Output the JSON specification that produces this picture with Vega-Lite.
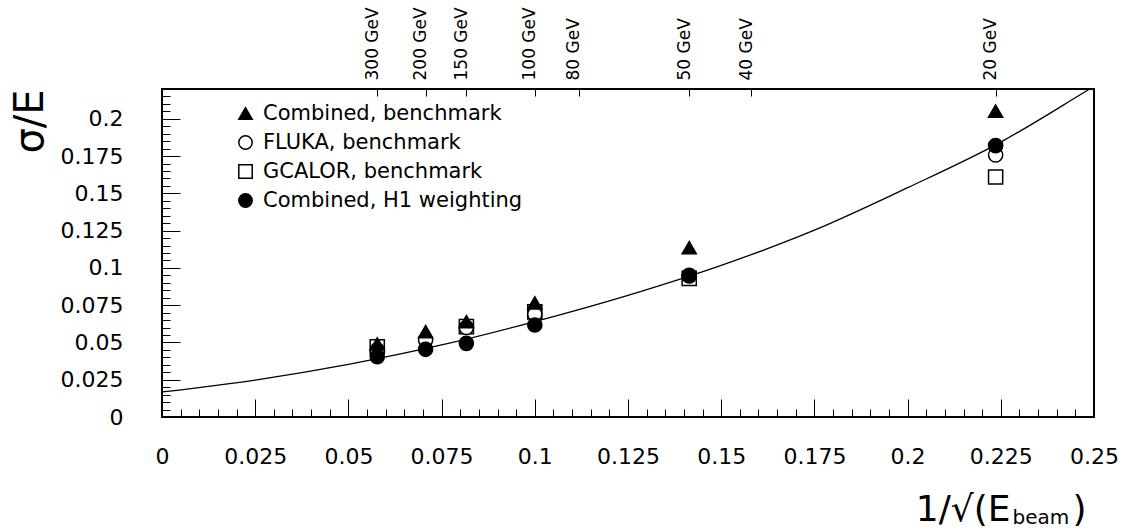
{
  "$schema": "https://vega.github.io/schema/vega-lite/v6.json",
  "width": 932,
  "height": 328,
  "autosize": {"type": "none"},
  "padding": {"left": 162, "top": 89, "right": 35, "bottom": 113},
  "background": "white",
  "config": {
    "view": {"stroke": "black", "strokeWidth": 2},
    "axis": {
      "grid": false, "domain": false, "tickColor": "black", "tickWidth": 1,
      "labelColor": "black", "labelFont": "DejaVu Sans", "labelFontSize": 22,
      "titleFont": "DejaVu Sans", "titleFontWeight": "normal", "titleColor": "black",
      "labelOverlap": false, "labelFlush": false
    },
    "legend": {
      "labelFont": "DejaVu Sans", "labelFontSize": 21, "labelColor": "black",
      "symbolStrokeWidth": 1.5, "symbolSize": 180,
      "padding": 0, "rowPadding": 7, "labelOffset": 7, "labelLimit": 400
    }
  },
  "datasets": {
    "curve": [
      {"x": 0, "y": 0.0168},
      {"x": 0.025, "y": 0.0248},
      {"x": 0.05, "y": 0.0353},
      {"x": 0.075, "y": 0.0483},
      {"x": 0.1, "y": 0.064},
      {"x": 0.125, "y": 0.0816},
      {"x": 0.15, "y": 0.1017},
      {"x": 0.175, "y": 0.1253},
      {"x": 0.2, "y": 0.1538},
      {"x": 0.225, "y": 0.1844},
      {"x": 0.2484, "y": 0.2193},
      {"x": 0.25, "y": 0.2217}
    ],
    "points": [
      {"series": "GCALOR, benchmark", "E": 300, "x": 0.05774, "y": 0.047},
      {"series": "GCALOR, benchmark", "E": 150, "x": 0.08165, "y": 0.0606},
      {"series": "GCALOR, benchmark", "E": 100, "x": 0.1, "y": 0.0705},
      {"series": "GCALOR, benchmark", "E": 50, "x": 0.14142, "y": 0.093},
      {"series": "GCALOR, benchmark", "E": 20, "x": 0.22361, "y": 0.161},
      {"series": "FLUKA, benchmark", "E": 300, "x": 0.05774, "y": 0.045},
      {"series": "FLUKA, benchmark", "E": 200, "x": 0.07071, "y": 0.0516},
      {"series": "FLUKA, benchmark", "E": 150, "x": 0.08165, "y": 0.06},
      {"series": "FLUKA, benchmark", "E": 100, "x": 0.1, "y": 0.069},
      {"series": "FLUKA, benchmark", "E": 50, "x": 0.14142, "y": 0.095},
      {"series": "FLUKA, benchmark", "E": 20, "x": 0.22361, "y": 0.1757},
      {"series": "Combined, benchmark", "E": 300, "x": 0.05774, "y": 0.049},
      {"series": "Combined, benchmark", "E": 200, "x": 0.07071, "y": 0.0572},
      {"series": "Combined, benchmark", "E": 150, "x": 0.08165, "y": 0.0639},
      {"series": "Combined, benchmark", "E": 100, "x": 0.1, "y": 0.0765},
      {"series": "Combined, benchmark", "E": 50, "x": 0.14142, "y": 0.1136},
      {"series": "Combined, benchmark", "E": 20, "x": 0.22361, "y": 0.2052},
      {"series": "Combined, H1 weighting", "E": 300, "x": 0.05774, "y": 0.0404},
      {"series": "Combined, H1 weighting", "E": 200, "x": 0.07071, "y": 0.0454},
      {"series": "Combined, H1 weighting", "E": 150, "x": 0.08165, "y": 0.0494},
      {"series": "Combined, H1 weighting", "E": 100, "x": 0.1, "y": 0.0617},
      {"series": "Combined, H1 weighting", "E": 50, "x": 0.14142, "y": 0.0946},
      {"series": "Combined, H1 weighting", "E": 20, "x": 0.22361, "y": 0.182}
    ]
  },
  "layer": [
    {
      "data": {"name": "curve"},
      "mark": {"type": "line", "color": "black", "strokeWidth": 1.3, "interpolate": "monotone", "clip": true},
      "encoding": {
        "x": {
          "field": "x", "type": "quantitative",
          "scale": {"domain": [0, 0.25], "nice": false, "zero": false},
          "axis": {
            "orient": "bottom",
            "values": [0, 0.025, 0.05, 0.075, 0.1, 0.125, 0.15, 0.175, 0.2, 0.225, 0.25],
            "format": ".3~f", "tickSize": -18, "labelPadding": 47,
            "title": "1/√(E", "titleFontSize": 36, "titleAlign": "right", "titleBaseline": "alphabetic",
            "titleAngle": 0, "titleX": 848, "titleY": 103
          }
        },
        "y": {
          "field": "y", "type": "quantitative",
          "scale": {"domain": [0, 0.22], "nice": false, "zero": false},
          "axis": {
            "orient": "left",
            "values": [0, 0.025, 0.05, 0.075, 0.1, 0.125, 0.15, 0.175, 0.2],
            "format": ".3~f", "tickSize": -18, "labelPadding": 57,
            "title": "σ/E", "titleFontSize": 40, "titleAngle": -90, "titleAlign": "right",
            "titleBaseline": "alphabetic", "titleX": -120, "titleY": 0
          }
        }
      }
    },
    {
      "data": {"name": "points"},
      "transform": [{"filter": "datum.series === 'GCALOR, benchmark' || datum.series === 'FLUKA, benchmark'"}],
      "mark": {"type": "point", "filled": true, "strokeWidth": 1.5, "size": 200, "opacity": 1},
      "encoding": {
        "x": {
          "field": "x", "type": "quantitative",
          "axis": {
            "orient": "bottom",
            "values": [0, 0.005, 0.01, 0.015, 0.02, 0.025, 0.03, 0.035, 0.04, 0.045, 0.05, 0.055, 0.06, 0.065, 0.07, 0.075, 0.08, 0.085, 0.09, 0.095, 0.1, 0.105, 0.11, 0.115, 0.12, 0.125, 0.13, 0.135, 0.14, 0.145, 0.15, 0.155, 0.16, 0.165, 0.17, 0.175, 0.18, 0.185, 0.19, 0.195, 0.2, 0.205, 0.21, 0.215, 0.22, 0.225, 0.23, 0.235, 0.24, 0.245, 0.25],
            "labels": false, "tickSize": -8,
            "title": "beam", "titleFontSize": 20, "titleAlign": "left", "titleBaseline": "alphabetic",
            "titleAngle": 0, "titleX": 850, "titleY": 106
          }
        },
        "y": {
          "field": "y", "type": "quantitative",
          "axis": {
            "orient": "left",
            "values": [0, 0.005, 0.01, 0.015, 0.02, 0.025, 0.03, 0.035, 0.04, 0.045, 0.05, 0.055, 0.06, 0.065, 0.07, 0.075, 0.08, 0.085, 0.09, 0.095, 0.1, 0.105, 0.11, 0.115, 0.12, 0.125, 0.13, 0.135, 0.14, 0.145, 0.15, 0.155, 0.16, 0.165, 0.17, 0.175, 0.18, 0.185, 0.19, 0.195, 0.2, 0.205, 0.21, 0.215, 0.22],
            "labels": false, "tickSize": -8, "title": null
          }
        },
        "shape": {
          "field": "series", "type": "nominal",
          "scale": {
            "domain": ["Combined, benchmark", "FLUKA, benchmark", "GCALOR, benchmark", "Combined, H1 weighting"],
            "range": ["triangle-up", "circle", "square", "circle"]
          },
          "legend": {"orient": "none", "legendX": 73, "legendY": 14, "title": null}
        },
        "fill": {
          "field": "series", "type": "nominal",
          "scale": {
            "domain": ["Combined, benchmark", "FLUKA, benchmark", "GCALOR, benchmark", "Combined, H1 weighting"],
            "range": ["black", "white", "white", "black"]
          },
          "legend": {"orient": "none", "legendX": 73, "legendY": 14, "title": null}
        },
        "stroke": {
          "field": "series", "type": "nominal",
          "scale": {
            "domain": ["Combined, benchmark", "FLUKA, benchmark", "GCALOR, benchmark", "Combined, H1 weighting"],
            "range": ["black", "black", "black", "black"]
          },
          "legend": {"orient": "none", "legendX": 73, "legendY": 14, "title": null}
        }
      }
    },
    {
      "data": {"name": "points"},
      "transform": [{"filter": "datum.series === 'Combined, benchmark' || datum.series === 'Combined, H1 weighting'"}],
      "mark": {"type": "point", "filled": true, "strokeWidth": 1.5, "size": 200, "opacity": 1},
      "encoding": {
        "x": {
          "field": "x", "type": "quantitative",
          "axis": {
            "orient": "top",
            "values": [0.057735, 0.070711, 0.08165, 0.1, 0.111803, 0.141421, 0.158114, 0.223607],
            "labelExpr": "format(1/(datum.value*datum.value), '.0f') + ' GeV'",
            "labelAngle": -90, "labelAlign": "left", "labelBaseline": "alphabetic",
            "labelFontSize": 17, "tickSize": -7, "labelPadding": 16,
            "title": ")", "titleFontSize": 36, "titleAlign": "left", "titleBaseline": "alphabetic",
            "titleAngle": 0, "titleX": 910, "titleY": 431
          }
        },
        "y": {"field": "y", "type": "quantitative", "axis": null},
        "shape": {"field": "series", "type": "nominal", "legend": {"orient": "none", "legendX": 73, "legendY": 14, "title": null}},
        "fill": {"field": "series", "type": "nominal", "legend": {"orient": "none", "legendX": 73, "legendY": 14, "title": null}},
        "stroke": {"field": "series", "type": "nominal", "legend": {"orient": "none", "legendX": 73, "legendY": 14, "title": null}}
      }
    }
  ],
  "resolve": {"axis": {"x": "independent", "y": "independent"}}
}
